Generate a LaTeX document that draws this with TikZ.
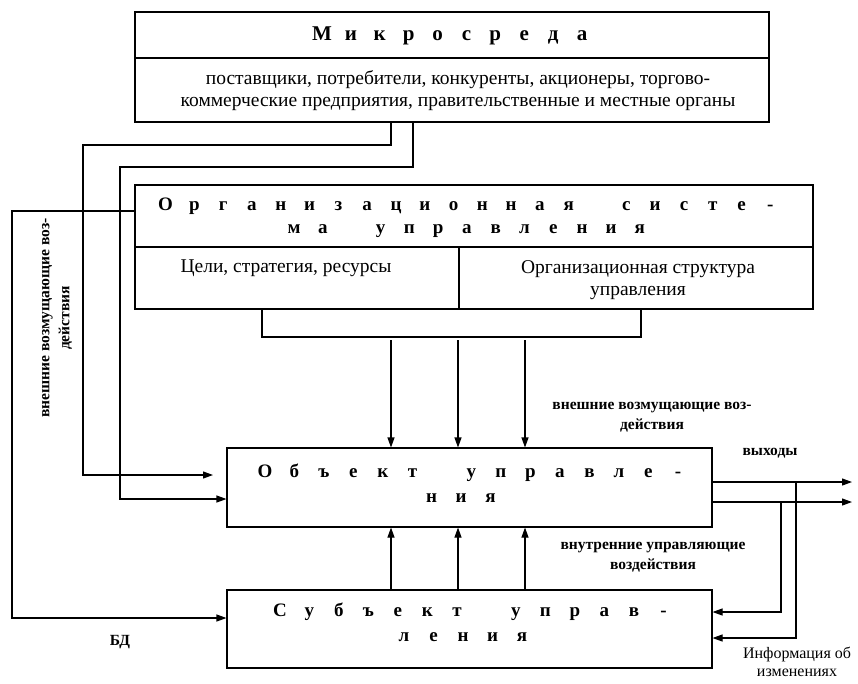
\documentclass[tikz,border=0pt]{standalone}
\usepackage{fontspec}
\setmainfont{Liberation Serif}
\usepackage{tikz}
\usetikzlibrary{
  arrows.meta,
  positioning,
  calc,
}

\newlength{\letterpitch}
\setlength{\letterpitch}{28.8pt}
\newcommand{\spreadword}[1]{\foreach \ch in {#1}{\makebox[\letterpitch]{\ch}}}

\begin{document}
\begin{tikzpicture}[
  x=1pt, y=-1pt,
  block/.style={
    draw=black,
    line width=1.1pt,
    inner sep=0pt,
  },
  headtxt/.style={
    font=\bfseries\fontsize{19}{22}\selectfont,
    inner sep=0pt,
  },
  bodytxt/.style={
    font=\fontsize{19.5}{22}\selectfont,
    align=center,
    inner sep=0pt,
  },
  lbl/.style={
    font=\bfseries\fontsize{15.5}{20}\selectfont,
    align=center,
    inner sep=0pt,
  },
  wire/.style={
    line width=1.1pt,
    draw=black,
  },
  arr/.style={
    -{Triangle[length=10pt, width=7pt]},
    line width=1.1pt,
    draw=black,
  },
]

\useasboundingbox (0,0) rectangle (858,683);
\fill[white] (0,0) rectangle (858,683);

% =============================================================================
% Microenvironment (top box)
% =============================================================================
\node[block, minimum width=634pt, minimum height=110pt] (micro) at (452,67) {};
\draw[wire] (micro.west |- 0,58) -- (micro.east |- 0,58);
\node[headtxt, font=\bfseries\fontsize{21}{24}\selectfont] (microtitle) at (452,36)
  {\setlength{\letterpitch}{28.9pt}\spreadword{М,и,к,р,о,с,р,е,д,а}};
\node[bodytxt] (microbody) at (458,91) {%
  поставщики, потребители, конкуренты, акционеры, торгово-\\
  коммерческие предприятия, правительственные и местные органы};

% =============================================================================
% Organisational system
% =============================================================================
\node[block, minimum width=678pt, minimum height=124pt] (org) at (474,247) {};
\draw[wire] (org.west) -- (org.east);
\draw[wire] (org.center -| 459,0) -- (org.south -| 459,0);
\node[headtxt] (orgtitleA) at (468,206)
  {\spreadword{О,р,г,а,н,и,з,а,ц,и,о,н,н,а,я,{},с,и,с,т,е,-}};
\node[headtxt] (orgtitleB) at (467,231)
  {\spreadword{м,а,{},у,п,р,а,в,л,е,н,и,я}};
\node[bodytxt] (goals) at (286,268) {Цели, стратегия, ресурсы};
\node[bodytxt] (struct) at (638,280) {Организационная структура\\управления};

% bracket under the two cells
\coordinate (brL) at (262,337);
\coordinate (brR) at (641,337);
\draw[wire] (org.south -| brL) -- (brL) -- (brR) -- (org.south -| brR);

% =============================================================================
% Object and subject of control
% =============================================================================
\node[block, minimum width=485pt, minimum height=79pt] (object) at (469.5,487.5) {};
\node[headtxt, anchor=west] (objtitleA) at (250,473)
  {\setlength{\letterpitch}{29.5pt}\spreadword{О,б,ъ,е,к,т,{},у,п,р,а,в,л,е,-}};
\node[headtxt] (objtitleB) at (461,498)
  {\setlength{\letterpitch}{29.5pt}\spreadword{н,и,я}};

\node[block, minimum width=485pt, minimum height=78pt] (subject) at (469.5,629) {};
\node[headtxt, anchor=west] (subjtitleA) at (265,612)
  {\setlength{\letterpitch}{29.5pt}\spreadword{С,у,б,ъ,е,к,т,{},у,п,р,а,в,-}};
\node[headtxt] (subjtitleB) at (463,637)
  {\setlength{\letterpitch}{29.5pt}\spreadword{л,е,н,и,я}};

% three control channels: down from the bracket, up from the subject
\coordinate (dropA) at (391,340);
\coordinate (dropB) at (458,340);
\coordinate (dropC) at (525,340);
\foreach \d in {dropA,dropB,dropC} {
  \draw[arr] (\d) -- (object.north -| \d);
  \draw[arr] (subject.north -| \d) -- (object.south -| \d);
}

% =============================================================================
% External disturbances from the microenvironment
% =============================================================================
\coordinate (tapA) at (391,145);
\coordinate (railA) at (83,475);
\coordinate (inA) at (213,475);
\draw[arr] (micro.south -| tapA) -- (tapA) -| (railA) -- (inA);

\coordinate (tapB) at (413,167);
\coordinate (railB) at (120,499);
\draw[arr] (micro.south -| tapB) -- (tapB) -| (railB) -- (object.west |- railB);

% data base loop: organisation -> subject
\coordinate (bdtop) at (12,211);
\coordinate (bdbot) at (12,618);
\draw[arr] (org.west |- bdtop) -- (bdtop) -- (bdbot) -- (subject.west |- bdbot);

% =============================================================================
% Outputs and feedback
% =============================================================================
\coordinate (outA) at (852,482);
\coordinate (outB) at (852,502);
\draw[arr] (object.east |- outA) -- (outA);
\draw[arr] (object.east |- outB) -- (outB);

\coordinate (fbA) at (796,638);
\coordinate (fbB) at (781,612);
\draw[arr] (outA -| fbA) -- (fbA) -- (subject.east |- fbA);
\draw[arr] (outB -| fbB) -- (fbB) -- (subject.east |- fbB);

% =============================================================================
% Labels
% =============================================================================
\node[lbl] (extlbl) at (652,417) {внешние возмущающие воз-\\действия};
\node[lbl] (intlbl) at (653,557) {внутренние управляющие\\воздействия};
\node[lbl] (outlbl) at (770,453) {выходы};
\node[lbl] (bdlbl) at (120,642) {БД};
\node[lbl, rotate=90] (sidelbl) at (57,318) {внешние возмущающие воз-\\действия};
\node[bodytxt, font=\fontsize{16}{18}\selectfont] (infolbl) at (797,662)
  {Информация об\\изменениях};

\end{tikzpicture}
\end{document}
